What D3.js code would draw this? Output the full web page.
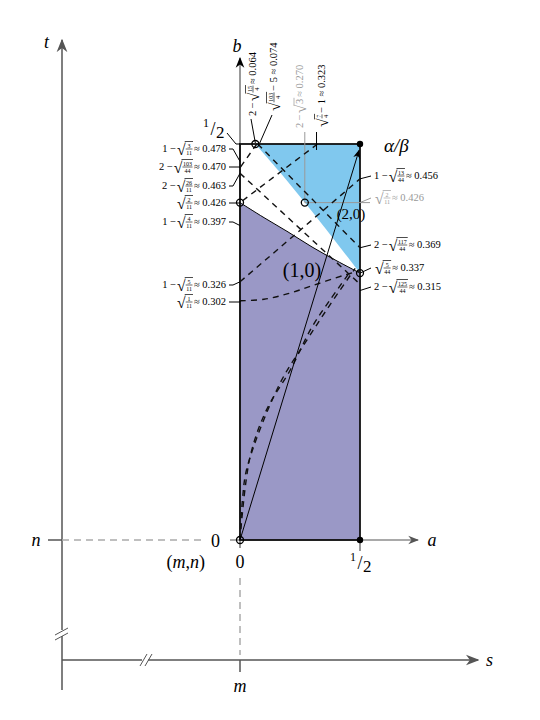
<!DOCTYPE html>
<html>
<head>
<meta charset="utf-8">
<script src="https://cdn.jsdelivr.net/npm/d3@7"></script>
<style>
  body { margin: 0; background: #fff; }
  text { font-family: "Liberation Serif", "DejaVu Serif", serif; }
</style>
</head>
<body>
<div id="chart"></div>
<script>
// Diagram size
const width = 540;
const height = 720;

// Region boundaries, as [a, b]
const purpleEdge = [[0, 0.426], [0.1, 0.407], [0.2, 0.389], [0.3, 0.37], [0.4, 0.353], [0.5, 0.337]];
const blueEdge = [[0.064, 0.5], [0.17, 0.463], [0.27, 0.426], [0.39, 0.38], [0.5, 0.337]];

// Dashed curves, as [a, b]
const dashed = [
  [[0.07, 0.5], [0, 0.47]],
  [[0.323, 0.5], [0, 0.426]],
  [[0, 0.463], [0.5, 0.323]],
  [[0.074, 0.5], [0.5, 0.369]],
  [[0, 0.326], [0.5, 0.456]],
  [[0, 0.302], [0.1, 0.304], [0.2, 0.311], [0.3, 0.321], [0.43, 0.334], [0.5, 0.34]],
  [[0, 0], [0.042, 0.105], [0.11, 0.164], [0.21, 0.215], [0.3, 0.269], [0.375, 0.303], [0.45, 0.335]],
  [[0, 0], [0.01, 0.05], [0.03, 0.092], [0.167, 0.198], [0.28, 0.253], [0.375, 0.297], [0.48, 0.343]]
];

// Points
const openPts = [[0, 0], [0, 0.426], [0.064, 0.5], [0.27, 0.426], [0.5, 0.337]];
const filledPts = [[0.5, 0.5], [0.5, 0]];

// Left tick labels: [b, prefix, num, den, suffix]
const leftLabels = [
  [0.478, "1 − ", "3", "11", " ≈ 0.478"],
  [0.470, "2 − ", "103", "44", " ≈ 0.470"],
  [0.463, "2 − ", "26", "11", " ≈ 0.463"],
  [0.426, "", "2", "11", " ≈ 0.426"],
  [0.397, "1 − ", "4", "11", " ≈ 0.397"],
  [0.326, "1 − ", "5", "11", " ≈ 0.326"],
  [0.302, "", "1", "11", " ≈ 0.302"]
];
const leftLabelY = [149, 167, 186, 203, 222, 285, 302];

// Right tick labels
const rightLabels = [
  [0.456, "1 − ", "13", "44", " ≈ 0.456", "#000"],
  [0.426, "", "2", "11", " ≈ 0.426", "#999"],
  [0.369, "2 − ", "117", "44", " ≈ 0.369", "#000"],
  [0.337, "", "5", "44", " ≈ 0.337", "#000"],
  [0.315, "2 − ", "125", "44", " ≈ 0.315", "#000"]
];
const rightLabelY = [176, 198, 245, 268, 287];

// Top labels (rotated): [a, prefix, num, den, suffix, colour]
const topLabels = [
  [0.064, "2 − ", "15", "4", " ≈ 0.064", "#000"],
  [0.074, "", "103", "4", " − 5 ≈ 0.074", "#000"],
  [0.270, "2 − ", "3", null, " ≈ 0.270", "#999"],
  [0.323, "", "7", "4", " − 1 ≈ 0.323", "#000"]
];
const topLabelX = [253, 274, 300, 322];
const topLabelBottom = [116, 112, 128, 128];

const x = d3.scaleLinear().domain([0, 0.5]).range([240, 360]);
const y = d3.scaleLinear().domain([0, 0.5]).range([540, 144]);

const svg = d3.select("#chart").append("svg")
  .attr("width", width).attr("height", height);

const defs = svg.append("defs");
function arrowMarker(id, color) {
  defs.append("marker").attr("id", id)
    .attr("viewBox", "0 0 10 10").attr("refX", 9).attr("refY", 5)
    .attr("markerWidth", 9).attr("markerHeight", 9).attr("orient", "auto")
    .append("path").attr("d", "M0,1 L10,5 L0,9 L3,5 Z").attr("fill", color);
}
arrowMarker("arrG", "#555");
arrowMarker("arrB", "#000");

const line = d3.line().x(d => x(d[0])).y(d => y(d[1]));
const curve = d3.line().x(d => x(d[0])).y(d => y(d[1])).curve(d3.curveCatmullRom);

// Outer s/t axes
svg.append("path").attr("d", "M62,690 L62,40").attr("stroke", "#555").attr("stroke-width", 1.5)
  .attr("fill", "none").attr("marker-end", "url(#arrG)");
svg.append("path").attr("d", "M62,660 L478,660").attr("stroke", "#555").attr("stroke-width", 1.5)
  .attr("fill", "none").attr("marker-end", "url(#arrG)");
svg.append("rect").attr("x", 55).attr("y", 630).attr("width", 14).attr("height", 6).attr("fill", "#fff");
svg.append("path").attr("d", "M55,635 L68,628 M55,640 L68,633").attr("stroke", "#555");
svg.append("rect").attr("x", 142).attr("y", 652).attr("width", 6).attr("height", 14).attr("fill", "#fff");
svg.append("path").attr("d", "M140,666 L147,654 M145,666 L152,654").attr("stroke", "#555");
svg.append("text").attr("x", 44).attr("y", 48).attr("font-size", 18).attr("font-style", "italic").text("t");
svg.append("text").attr("x", 486).attr("y", 666).attr("font-size", 18).attr("font-style", "italic").text("s");

// n and m
svg.append("path").attr("d", "M48,540 L62,540").attr("stroke", "#555").attr("stroke-width", 1.5);
svg.append("path").attr("d", "M62,540 L205,540").attr("stroke", "#aaa").attr("stroke-width", 1.5).attr("stroke-dasharray", "7,5");
svg.append("text").attr("x", 36).attr("y", 546).attr("font-size", 18).attr("font-style", "italic").attr("text-anchor", "middle").text("n");
svg.append("path").attr("d", "M240,578 L240,655").attr("stroke", "#aaa").attr("stroke-width", 1.5).attr("stroke-dasharray", "7,5");
svg.append("path").attr("d", "M240,660 L240,672").attr("stroke", "#555").attr("stroke-width", 1.5);
svg.append("text").attr("x", 240).attr("y", 692).attr("font-size", 18).attr("font-style", "italic").attr("text-anchor", "middle").text("m");

// Regions
svg.append("rect").attr("x", x(0)).attr("y", y(0.5)).attr("width", x(0.5) - x(0)).attr("height", y(0) - y(0.5)).attr("fill", "#fff");
svg.append("path")
  .attr("d", line([[0, 0], [0.5, 0]]) + curve(purpleEdge.slice().reverse()).replace("M", "L") + "Z")
  .attr("fill", "#9a98c6");
svg.append("path")
  .attr("d", curve(blueEdge) + "L" + x(0.5) + "," + y(0.5) + "Z")
  .attr("fill", "#80c8ee");

// Inner a/b axes
svg.append("path").attr("d", `M230,${y(0)} L418,${y(0)}`).attr("stroke", "#555").attr("stroke-width", 1.2)
  .attr("marker-end", "url(#arrG)");
svg.append("path").attr("d", `M${x(0)},548 L${x(0)},58`).attr("stroke", "#555").attr("stroke-width", 1.2)
  .attr("marker-end", "url(#arrB)");
svg.append("path").attr("d", `M${x(0.5)},${y(0)} L${x(0.5)},551`).attr("stroke", "#555").attr("stroke-width", 1.2);
svg.append("text").attr("x", 432).attr("y", 546).attr("font-size", 18).attr("font-style", "italic").attr("text-anchor", "middle").text("a");
svg.append("text").attr("x", 237).attr("y", 52).attr("font-size", 18).attr("font-style", "italic").attr("text-anchor", "middle").text("b");

// Region outline
svg.append("path").attr("d", curve(purpleEdge)).attr("fill", "none").attr("stroke", "#000").attr("stroke-width", 1);
svg.append("rect").attr("x", x(0)).attr("y", y(0.5)).attr("width", x(0.5) - x(0)).attr("height", y(0) - y(0.5))
  .attr("fill", "none").attr("stroke", "#111").attr("stroke-width", 1.8);

// Grey guide lines for 2-√3 / √(2/11)
svg.append("path").attr("d", `M${x(0.27)},132 L${x(0.27)},${y(0.426)} L370,${y(0.426)}`)
  .attr("fill", "none").attr("stroke", "#999").attr("stroke-width", 1);

// Dashed curves
svg.selectAll(".dash").data(dashed).enter().append("path")
  .attr("class", "dash")
  .attr("d", d => d.length > 2 ? curve(d) : line(d))
  .attr("fill", "none").attr("stroke", "#111").attr("stroke-width", 1.4).attr("stroke-dasharray", "6,5");

// Line to alpha/beta
svg.append("path").attr("d", line([[0, 0], [0.496, 0.492]])).attr("stroke", "#000").attr("stroke-width", 1)
  .attr("marker-end", "url(#arrB)");

// Points
svg.selectAll(".op").data(openPts).enter().append("circle")
  .attr("cx", d => x(d[0])).attr("cy", d => y(d[1])).attr("r", 3.5)
  .attr("fill", "none").attr("stroke", "#000").attr("stroke-width", 1.3);
svg.selectAll(".fp").data(filledPts).enter().append("circle")
  .attr("cx", d => x(d[0])).attr("cy", d => y(d[1])).attr("r", 3.2).attr("fill", "#000");

// Big labels
function big(tx, ty, str, size, anchor, italic) {
  return svg.append("text").attr("x", tx).attr("y", ty).attr("font-size", size)
    .attr("text-anchor", anchor || "middle").attr("font-style", italic ? "italic" : "normal").text(str);
}
big(220, 547, "0", 18, "end");
big(240, 568, "0", 18);
const mn = svg.append("text").attr("x", 205).attr("y", 568).attr("font-size", 18).attr("text-anchor", "end");
mn.append("tspan").text("(");
mn.append("tspan").attr("font-style", "italic").text("m");
mn.append("tspan").text(",");
mn.append("tspan").attr("font-style", "italic").text("n");
mn.append("tspan").text(")");
function half(hx, hy) {
  const g = svg.append("g").attr("transform", `translate(${hx},${hy})`);
  g.append("text").attr("x", -4).attr("y", -5).attr("font-size", 12).attr("text-anchor", "end").text("1");
  g.append("text").attr("x", 0).attr("y", 3).attr("font-size", 18).attr("text-anchor", "middle").text("/");
  g.append("text").attr("x", 3).attr("y", 6).attr("font-size", 17).text("2");
}
half(360, 566);
half(213, 132);
svg.append("path").attr("d", "M227,133 L236,144 L240,144").attr("fill", "none").attr("stroke", "#000");
big(384, 152, "α/β", 19, "start", true);
big(302, 277, "(1,0)", 20);
big(351, 219, "(2,0)", 15);

// Math labels with square roots
function mathLabel(parent, px, py, pre, num, den, post, color, anchor, rot) {
  const size = 10.5;
  const g = parent.append("g").attr("fill", color);
  let cx = 0;
  const t1 = g.append("text").attr("x", cx).attr("y", 0).attr("font-size", size).text(pre);
  cx += t1.node().getComputedTextLength() + 1;
  const rad = g.append("text").attr("x", cx).attr("y", 2.5).attr("font-size", size * 1.5).text("√");
  cx += rad.node().getComputedTextLength() - 0.5;
  let w;
  let topY;
  if (den) {
    const n = g.append("text").attr("y", -4.5).attr("font-size", 6).attr("text-anchor", "middle").text(num);
    const d = g.append("text").attr("y", 2.5).attr("font-size", 6).attr("text-anchor", "middle").text(den);
    w = Math.max(n.node().getComputedTextLength(), d.node().getComputedTextLength()) + 2;
    n.attr("x", cx + w / 2);
    d.attr("x", cx + w / 2);
    g.append("path").attr("d", `M${cx + 0.5},-3 L${cx + w - 0.5},-3`).attr("stroke", color).attr("stroke-width", 0.6);
    topY = -10.5;
  } else {
    const n = g.append("text").attr("x", cx + 1).attr("y", 0).attr("font-size", size).text(num);
    w = n.node().getComputedTextLength() + 2;
    topY = -9;
  }
  g.append("path").attr("d", `M${cx - 0.5},${topY} L${cx + w},${topY}`).attr("stroke", color).attr("stroke-width", 0.7);
  cx += w + 1;
  const t2 = g.append("text").attr("x", cx).attr("y", 0).attr("font-size", size).text(post);
  cx += t2.node().getComputedTextLength();
  const shift = anchor === "end" ? -cx : 0;
  g.attr("transform", `translate(${px},${py}) rotate(${rot || 0}) translate(${shift},3)`);
}

leftLabels.forEach((d, i) => {
  const ly = leftLabelY[i];
  const ty = y(d[0]);
  svg.append("path").attr("d", `M229,${ly} L${Math.abs(ly - ty) > 3 ? 233 : 240},${ly} L240,${ty}`)
    .attr("fill", "none").attr("stroke", "#000").attr("stroke-width", 1);
  mathLabel(svg, 226, ly, d[1], d[2], d[3], d[4], "#000", "end");
});

rightLabels.forEach((d, i) => {
  const ly = rightLabelY[i];
  svg.append("path").attr("d", `M360,${y(d[0])} L371,${ly}`).attr("stroke", d[5]).attr("stroke-width", 1);
  mathLabel(svg, 374, ly, d[1], d[2], d[3], d[4], d[5], "start");
});

topLabels.forEach((d, i) => {
  const lx = topLabelX[i];
  const by = topLabelBottom[i];
  if (i < 2) {
    svg.append("path").attr("d", `M${lx - 2},${by + 3} L${x(d[0]) + (i ? 2 : 0)},${y(0.5) - 1}`)
      .attr("stroke", "#000").attr("stroke-width", 1);
  } else if (i === 3) {
    svg.append("path").attr("d", `M${x(d[0]) - 1},${by + 4} L${x(d[0]) - 1},${y(0.5) + 6}`)
      .attr("stroke", "#000").attr("stroke-width", 1);
  }
  mathLabel(svg, lx, by, d[1], d[2], d[3], d[4], d[5], "start", -90);
});
</script>
</body>
</html>
